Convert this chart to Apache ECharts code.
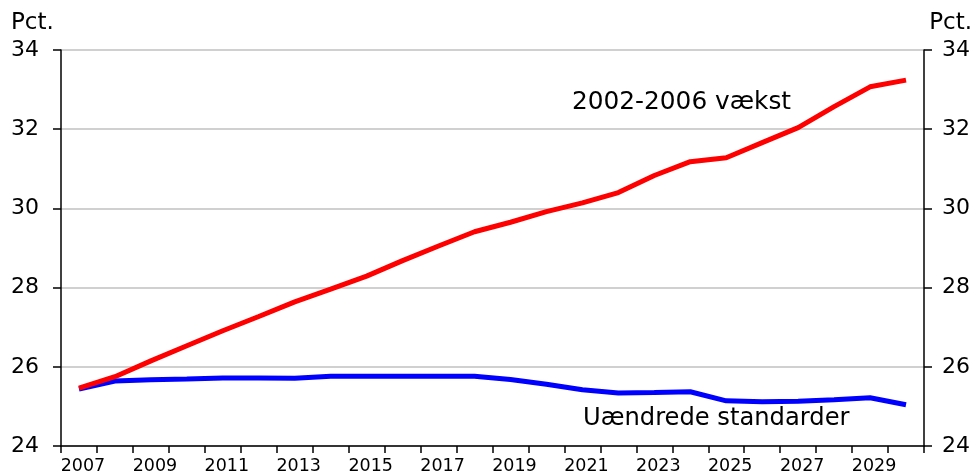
<!DOCTYPE html>
<html>
<head>
<meta charset="utf-8">
<script src="https://cdn.jsdelivr.net/npm/echarts@6/dist/echarts.min.js"></script>
<style>
html,body{margin:0;padding:0;background:#fff;}
#chart{width:975px;height:475px;}
</style>
</head>
<body>
<div id="chart"></div>
<script>
const years = ['2007','2008','2009','2010','2011','2012','2013','2014','2015','2016','2017','2018',
  '2019','2020','2021','2022','2023','2024','2025','2026','2027','2028','2029','2030'];
const vaekst = [25.46,25.75,26.15,26.53,26.91,27.27,27.64,27.96,28.29,28.68,29.05,29.41,
  29.65,29.92,30.14,30.40,30.83,31.18,31.28,31.66,32.04,32.57,33.07,33.24];
const uaendrede = [25.44,25.64,25.67,25.69,25.72,25.72,25.71,25.76,25.76,25.76,25.76,25.76,
  25.68,25.56,25.42,25.34,25.35,25.37,25.14,25.12,25.13,25.17,25.22,25.04];
const seriesNames = ['2002-2006 vækst','Uændrede standarder'];
const yTicks = {min:24, max:34, interval:2};
const unitLabel = 'Pct.';

const FONT = '"DejaVu Sans", Verdana, sans-serif';
const chart = echarts.init(document.getElementById('chart'), null, {renderer:'canvas'});

function yAxisCfg(pos, margin){
  return {
    type:'value', position:pos, min:yTicks.min, max:yTicks.max, interval:yTicks.interval,
    axisLine:{show:true, lineStyle:{color:'#000', width:1.5}},
    axisTick:{show:true, inside:false, length:8, lineStyle:{color:'#000', width:1.5}},
    axisLabel:{show:true, margin:margin, color:'#000', fontSize:22, fontFamily:FONT},
    splitLine:{show: pos==='left', lineStyle:{color:'#c0c0c0', width:1.5}}
  };
}

chart.setOption({
  animation:false,
  backgroundColor:'#fff',
  grid:{left:61, right:51, top:50, bottom:29, containLabel:false},
  xAxis:{
    type:'category', data:years, boundaryGap:true,
    axisLine:{show:true, lineStyle:{color:'#000', width:1.5}},
    axisTick:{show:true, interval:0, length:7, lineStyle:{color:'#000', width:1.5}},
    axisLabel:{interval:1, margin:11, color:'#000', fontSize:17.5, fontFamily:FONT, padding:[0,0,0,8]},
    splitLine:{show:false}
  },
  yAxis:[yAxisCfg('left',22), yAxisCfg('right',18)],
  series:[
    {name:seriesNames[0], type:'line', data:vaekst, yAxisIndex:0, symbol:'none',
     lineStyle:{color:'#ff0000', width:5}, itemStyle:{color:'#ff0000'}, z:3},
    {name:seriesNames[1], type:'line', data:uaendrede, yAxisIndex:0, symbol:'none',
     lineStyle:{color:'#0000ff', width:5}, itemStyle:{color:'#0000ff'}, z:2}
  ],
  graphic:[
    {type:'text', left:11, top:12, style:{text:unitLabel, font:'23px '+FONT, fill:'#000'}},
    {type:'text', right:3, top:12, style:{text:unitLabel, font:'23px '+FONT, fill:'#000'}},
    {type:'text', left:572, top:90, style:{text:seriesNames[0], font:'24.8px '+FONT, fill:'#000'}},
    {type:'text', left:583, top:407, style:{text:seriesNames[1], font:'24.2px '+FONT, fill:'#000'}}
  ]
});
</script>
</body>
</html>
